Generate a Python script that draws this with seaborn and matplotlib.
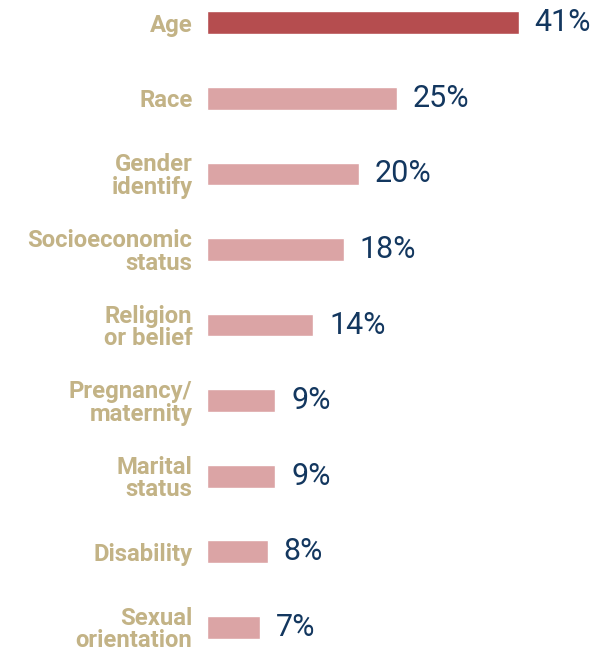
import matplotlib
matplotlib.use("Agg")
import matplotlib.pyplot as plt
import seaborn as sns
import pandas as pd

categories = ["Age", "Race", "Gender\nidentify", "Socioeconomic\nstatus", "Religion\nor belief",
              "Pregnancy/\nmaternity", "Marital\nstatus", "Disability", "Sexual\norientation"]
values = [41, 25, 20, 18, 14, 9, 9, 8, 7]
value_labels = ["41%", "25%", "20%", "18%", "14%", "9%", "9%", "8%", "7%"]

highlight = "#B54D4F"
light = "#DBA4A5"
label_color = "#C3B386"
value_color = "#13375F"

sns.set_theme(style="white")
plt.rcParams["font.family"] = ["Roboto", "DejaVu Sans"]

df = pd.DataFrame({"cat": categories, "val": values})
palette = [highlight] + [light] * (len(categories) - 1)

fig = plt.figure(figsize=(6.01, 6.51), dpi=100)
ax = fig.add_axes([207 / 601, 1 - 650 / 651, 380 / 601, 650 / 651])
sns.barplot(data=df, x="val", y="cat", hue="cat", palette=palette, legend=False,
            width=0.30, ax=ax, saturation=1)
ax.set_xlim(0, 50)
ax.set_ylim(8.3, -0.3)
ax.set_xlabel("")
ax.set_ylabel("")
ax.set_xticks([])
for s in ax.spines.values():
    s.set_visible(False)
ax.tick_params(axis="y", length=0, pad=10.5)
ax.set_yticks(range(len(categories)))
ax.set_yticklabels(categories, fontsize=17.2, fontweight="bold", color=label_color,
                   linespacing=0.98, ha="right")

for i, (v, lab) in enumerate(zip(values, value_labels)):
    ax.annotate(lab, xy=(v, i), xytext=(16, 0), textcoords="offset pixels",
                va="center", ha="left", fontsize=22, color=value_color)

fig.savefig("out.png", dpi=100)
